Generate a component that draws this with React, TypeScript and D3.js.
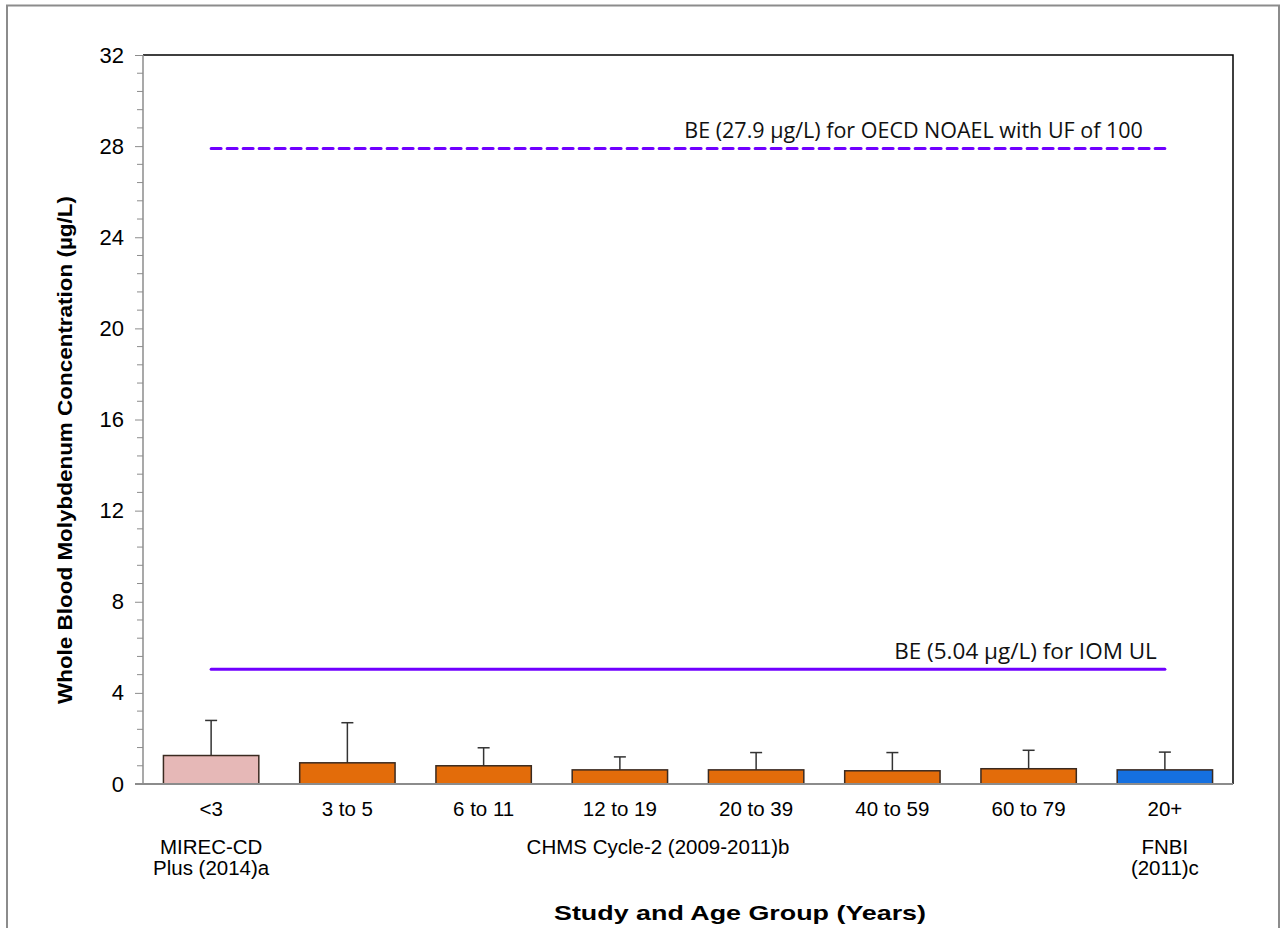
import { useEffect, useRef } from 'react';
import * as d3 from 'd3';

const ageGroups = ['<3', '3 to 5', '6 to 11', '12 to 19', '20 to 39', '40 to 59', '60 to 79', '20+'];
const means = [1.25, 0.93, 0.8, 0.62, 0.62, 0.58, 0.67, 0.62];
const upperErrors = [2.79, 2.69, 1.59, 1.19, 1.38, 1.38, 1.48, 1.4];
const studies = ['mirec', 'chms', 'chms', 'chms', 'chms', 'chms', 'chms', 'fnbi'];
const studyColors: Record<string, string> = { mirec: '#e6b8b7', chms: '#e36c0a', fnbi: '#1570e0' };
const yTicks = [0, 4, 8, 12, 16, 20, 24, 28, 32];
const refLines = [
  { value: 27.9, label: 'BE (27.9 µg/L) for OECD NOAEL with UF of 100', dashed: true },
  { value: 5.04, label: 'BE (5.04 µg/L) for IOM UL', dashed: false },
];

export default function App() {
  const svgRef = useRef<SVGSVGElement>(null);

  useEffect(() => {
    if (!svgRef.current) return;
    const svg = d3.select(svgRef.current);
    svg.selectAll('*').remove();

    const W = 1281, H = 928;
    const margin = { top: 55, right: 48, bottom: 144, left: 143 };
    const width = W - margin.left - margin.right;
    const height = H - margin.top - margin.bottom;
    const font = '"Liberation Sans", Arial, sans-serif';

    // outer frame
    svg.append('rect')
      .attr('x', 7).attr('y', 5.5).attr('width', 1272).attr('height', 930)
      .attr('fill', 'white').attr('stroke', '#8c8c8c').attr('stroke-width', 2);

    const g = svg.append('g').attr('transform', `translate(${margin.left},${margin.top})`);

    const x = d3.scaleBand().domain(ageGroups).range([0, width]).paddingInner(0.3).paddingOuter(0.15);
    const y = d3.scaleLinear().domain([0, 32]).range([height, 0]);
    const cx = (d: string) => x(d)! + x.bandwidth() / 2;

    // top & right border
    g.append('path')
      .attr('d', `M0,0H${width}V${height}`)
      .attr('fill', 'none').attr('stroke', 'black').attr('stroke-width', 1.5);

    // minor ticks
    const minor = d3.range(0, 32.01, 0.8).filter(v => Math.abs(v / 4 - Math.round(v / 4)) > 0.01);
    g.selectAll('.minor').data(minor).join('line')
      .attr('x1', -6).attr('x2', 0)
      .attr('y1', d => y(d)).attr('y2', d => y(d))
      .attr('stroke', '#8c8c8c').attr('stroke-width', 1);

    // y axis
    const yAxis = g.append('g')
      .call(d3.axisLeft(y).tickValues(yTicks).tickSize(8).tickPadding(11).tickFormat(d3.format('d')));
    yAxis.select('.domain').attr('stroke', '#8c8c8c').attr('stroke-width', 1.5).attr('d', `M0,${height + 1}V0`);
    yAxis.selectAll('.tick line').attr('stroke', '#8c8c8c');
    yAxis.selectAll('text').attr('font-family', font).attr('font-size', 22).attr('fill', 'black');

    // bars
    const bars = means.map((m, i) => ({ group: ageGroups[i], mean: m, upper: upperErrors[i], study: studies[i] }));

    g.selectAll('.err').data(bars).join('line')
      .attr('x1', d => cx(d.group)).attr('x2', d => cx(d.group))
      .attr('y1', d => y(d.mean)).attr('y2', d => y(d.upper))
      .attr('stroke', '#333').attr('stroke-width', 1.5);
    g.selectAll('.cap').data(bars).join('line')
      .attr('x1', d => cx(d.group) - 6).attr('x2', d => cx(d.group) + 6)
      .attr('y1', d => y(d.upper)).attr('y2', d => y(d.upper))
      .attr('stroke', '#333').attr('stroke-width', 1.5);

    g.selectAll('.bar').data(bars).join('rect')
      .attr('x', d => x(d.group)!)
      .attr('y', d => y(d.mean))
      .attr('width', x.bandwidth())
      .attr('height', d => y(0) - y(d.mean))
      .attr('fill', d => studyColors[d.study])
      .attr('stroke', '#3a2a20').attr('stroke-width', 1.5);

    // x axis baseline
    g.append('line')
      .attr('x1', -8).attr('x2', width).attr('y1', height).attr('y2', height)
      .attr('stroke', '#8c8c8c').attr('stroke-width', 2);

    // reference lines
    const lineX1 = cx(ageGroups[0]);
    const lineX2 = cx(ageGroups[ageGroups.length - 1]);
    refLines.forEach(r => {
      g.append('line')
        .attr('x1', lineX1).attr('x2', lineX2)
        .attr('y1', y(r.value)).attr('y2', y(r.value))
        .attr('stroke', '#7000ff').attr('stroke-width', 3)
        .attr('stroke-dasharray', r.dashed ? '10,6' : null)
        .attr('stroke-linecap', 'round');
      g.append('text')
        .attr('x', lineX2 - (r.dashed ? 22 : 8))
        .attr('y', y(r.value) - 10)
        .attr('text-anchor', 'end')
        .attr('font-family', '"Open Sans", "Noto Sans", sans-serif')
        .attr('font-size', r.dashed ? 21.5 : 22.5)
        .attr('fill', '#111')
        .text(r.label);
    });

    // category labels
    g.selectAll('.cat').data(ageGroups).join('text')
      .attr('x', d => cx(d))
      .attr('y', height + 32)
      .attr('text-anchor', 'middle')
      .attr('font-family', font).attr('font-size', 20.5)
      .text(d => d);

    // study labels
    const studyLabel = (px: number, lines: string[]) => {
      lines.forEach((t, i) => {
        g.append('text')
          .attr('x', px).attr('y', height + 70 + i * 21)
          .attr('text-anchor', 'middle')
          .attr('font-family', font).attr('font-size', 20.5)
          .text(t);
      });
    };
    studyLabel(cx('<3'), ['MIREC-CD', 'Plus (2014)a']);
    studyLabel((cx('12 to 19') + cx('20 to 39')) / 2 - 30, ['CHMS Cycle-2 (2009-2011)b']);
    studyLabel(cx('20+'), ['FNBI', '(2011)c']);

    // axis titles
    svg.append('text')
      .attr('x', 740).attr('y', 920)
      .attr('text-anchor', 'middle')
      .attr('font-family', font).attr('font-size', 21).attr('font-weight', 'bold')
      .attr('textLength', 372).attr('lengthAdjust', 'spacingAndGlyphs')
      .text('Study and Age Group (Years)');

    svg.append('text')
      .attr('transform', `translate(72,450) rotate(-90)`)
      .attr('text-anchor', 'middle')
      .attr('font-family', font).attr('font-size', 21).attr('font-weight', 'bold')
      .attr('textLength', 508).attr('lengthAdjust', 'spacingAndGlyphs')
      .text('Whole Blood Molybdenum Concentration (µg/L)');
  }, []);

  return (
    <svg ref={svgRef} width={1281} height={928}
      style={{ position: 'absolute', left: 0, top: 0, background: 'white' }} />
  );
}
